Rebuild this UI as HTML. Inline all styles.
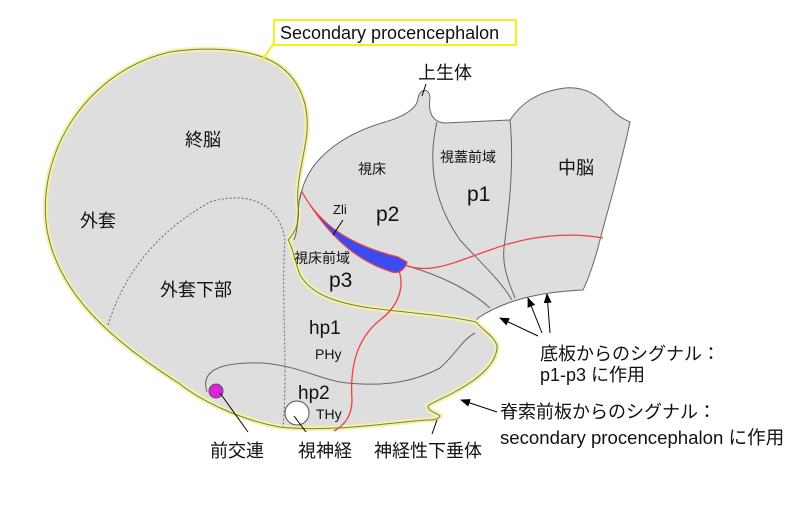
<!DOCTYPE html>
<html><head><meta charset="utf-8"><style>
html,body{margin:0;padding:0;background:#fff;}
svg{display:block;}
text{font-family:"Liberation Sans","Noto Sans CJK JP",sans-serif;fill:#111;}
</style></head><body>
<svg width="800" height="531" viewBox="0 0 800 531" xmlns="http://www.w3.org/2000/svg">
<defs><marker id="a" markerWidth="10" markerHeight="8" refX="9" refY="4" orient="auto" markerUnits="userSpaceOnUse"><path d="M0,0 L10,4 L0,8 z" fill="#000"/></marker></defs>
<!-- diencephalon / midbrain -->
<path d="M302,190 C310,160 340,135 385,122 C410,115 418,105 418,98 C420,88 430,88 430,98 C428,112 432,122 445,123 L510,120 C520,105 535,92 565,88 C590,86 602,100 612,110 C620,118 626,120 630,122 C620,170 605,220 600,240 C595,260 588,280 583,290 C540,292 505,300 478,318 L470,330 L300,300 L290,240 Z" fill="#dedede" stroke="#666" stroke-width="1"/>
<!-- secondary procencephalon -->
<path d="M265,58 C295,70 312,100 306,140 C302,165 296,185 298,205 C300,220 296,232 288,240 C292,245 294,258 300,275 C310,292 330,302 370,308 C420,314 450,316 476,322 C484,332 492,334 497,345 C498,362 480,378 458,390 C445,398 432,402 428,406 C428,412 436,412 440,416 C438,420 432,420 425,420 C380,424 330,432 280,427 C240,420 200,400 180,384 C120,345 60,300 47,230 C35,150 90,70 170,52 C210,46 245,50 265,58 Z" fill="#dedede" stroke="#f4f49a" stroke-width="5" stroke-linejoin="round"/>
<path d="M265,58 C295,70 312,100 306,140 C302,165 296,185 298,205 C300,220 296,232 288,240 C292,245 294,258 300,275 C310,292 330,302 370,308 C420,314 450,316 476,322 C484,332 492,334 497,345 C498,362 480,378 458,390 C445,398 432,402 428,406 C428,412 436,412 440,416 C438,420 432,420 425,420 C380,424 330,432 280,427 C240,420 200,400 180,384 C120,345 60,300 47,230 C35,150 90,70 170,52 C210,46 245,50 265,58 Z" fill="none" stroke="#777" stroke-width="1"/>
<path d="M302,190 C296,205 300,225 294,240" fill="none" stroke="#666" stroke-width="1"/>
<!-- internal lines -->
<path d="M437,122 C428,160 432,200 460,240 C480,262 500,280 512,300" fill="none" stroke="#666"/>
<path d="M510,120 C514,160 510,200 505,240 C500,265 510,285 515,298" fill="none" stroke="#666"/>
<path d="M407,266 C440,275 470,290 490,308" fill="none" stroke="#666"/>
<path d="M207,392 C200,370 220,362 263,363 C300,366 320,380 347,383 C380,386 410,384 440,368 C455,355 462,340 475,333" fill="none" stroke="#666"/>
<!-- dotted -->
<path d="M108,325 C125,270 160,230 210,202 C250,190 280,205 285,240 C282,280 285,330 285,370 C285,400 284,415 283,427" fill="none" stroke="#666" stroke-dasharray="2,2"/>
<!-- red lines -->
<path d="M405,265 C430,275 455,262 490,250 C530,235 570,232 603,238" fill="none" stroke="#f04040" stroke-width="1.3"/>
<path d="M398,268 C405,285 400,305 380,320 C355,340 350,370 352,400 C352,415 345,425 334,431" fill="none" stroke="#f04040" stroke-width="1.3"/>
<!-- ZLI -->
<path d="M302,192 C320,225 350,245 398,257 L407,262 C405,270 398,274 392,272 C360,262 330,240 302,192 Z" fill="#3a4cf0" stroke="#f04040" stroke-width="1.2"/>
<line x1="343" y1="220" x2="333" y2="235" stroke="#000"/>
<!-- circles -->
<circle cx="216" cy="391" r="7" fill="#e020e0" stroke="#555"/>
<circle cx="297" cy="413" r="12" fill="#fff" stroke="#555"/>
<line x1="220" y1="393" x2="248" y2="432" stroke="#000"/>
<line x1="294" y1="416" x2="306" y2="432" stroke="#000"/>
<line x1="437" y1="420" x2="432" y2="434" stroke="#000"/>
<line x1="426" y1="84" x2="422" y2="96" stroke="#000"/>
<!-- label box -->
<line x1="262" y1="60" x2="275" y2="42" stroke="#f2f020" stroke-width="2"/>
<rect x="274" y="20" width="242" height="25" fill="#fff" stroke="#f2f020" stroke-width="2"/>
<text x="280" y="39" font-size="18">Secondary procencephalon</text>
<!-- arrows -->
<line x1="538" y1="336" x2="500" y2="318" stroke="#000" marker-end="url(#a)"/>
<line x1="542" y1="333" x2="528" y2="298" stroke="#000" marker-end="url(#a)"/>
<line x1="550" y1="333" x2="547" y2="294" stroke="#000" marker-end="url(#a)"/>
<line x1="497" y1="412" x2="461" y2="400" stroke="#000" marker-end="url(#a)"/>
<!-- labels -->
<g font-size="18">
<text x="418" y="79">上生体</text>
<text x="185" y="146">終脳</text>
<text x="80" y="227">外套</text>
<text x="160" y="296">外套下部</text>
<text x="558" y="174">中脳</text>
<text x="467" y="201" font-size="21">p1</text>
<text x="376" y="221" font-size="21">p2</text>
<text x="329" y="287" font-size="21">p3</text>
<text x="309" y="334" font-size="19">hp1</text>
<text x="298" y="399" font-size="19">hp2</text>
<text x="210" y="457">前交連</text>
<text x="298" y="457">視神経</text>
<text x="374" y="457">神経性下垂体</text>
<text x="540" y="360">底板からのシグナル：</text>
<text x="540" y="381">p1-p3 に作用</text>
<text x="500" y="418">脊索前板からのシグナル：</text>
<text x="500" y="444" font-size="18.6">secondary procencephalon に作用</text>
</g>
<g font-size="14">
<text x="358" y="174">視床</text>
<text x="440" y="162">視蓋前域</text>
<text x="294" y="263">視床前域</text>
<text x="333" y="214" font-size="13">Zli</text>
<text x="315" y="359">PHy</text>
<text x="316" y="419">THy</text>
</g>
</svg>
</body></html>
